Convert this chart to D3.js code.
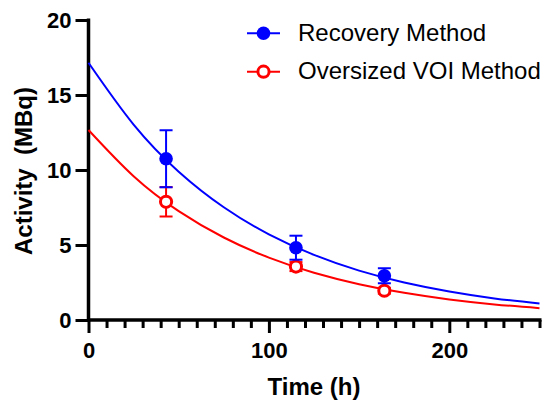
<!DOCTYPE html>
<html>
<head>
<meta charset="utf-8">
<script src="https://cdn.jsdelivr.net/npm/d3@7"></script>
<style>
  body { margin: 0; background: #fff; }
  svg { display: block; }
  text { font-family: "Liberation Sans", Arial, sans-serif; }
</style>
</head>
<body>
<div id="chart"></div>
<script>
// measured points
const sampleTimes = [43, 115, 164];
const recoveryMean = [10.75, 4.82, 2.95];
const recoveryErr = [1.9, 0.8, 0.5];
const oversizedMean = [7.88, 3.56, 1.95];
const oversizedErr = [0.98, 0.3, 0.2];

// fitted curves
const curveTimes = [0, 25, 50, 75, 100, 125, 150, 175, 200, 225, 250];
const recoveryFit = [17.15, 13.03, 9.89, 7.52, 5.71, 4.34, 3.29, 2.50, 1.90, 1.44, 1.10];
const oversizedFit = [12.67, 9.59, 7.26, 5.50, 4.16, 3.15, 2.39, 1.81, 1.37, 1.04, 0.79];

const xMajor = [0, 100, 200];
const xMinor = [10, 20, 30, 40, 50, 60, 70, 80, 90, 110, 120, 130, 140, 150, 160, 170, 180, 190, 210, 220, 230, 240, 250];
const yTicks = [0, 5, 10, 15, 20];

const seriesNames = ['Recovery Method', 'Oversized VOI Method'];
const BLUE = '#0000ff';
const RED = '#ff0000';

const W = 542, H = 400;
const margin = { top: 20, right: 2.5, bottom: 80, left: 88.5 };
const width = W - margin.left - margin.right;
const height = H - margin.top - margin.bottom;

const svg = d3.select('#chart').append('svg')
  .attr('width', W).attr('height', H);
const g = svg.append('g')
  .attr('transform', `translate(${margin.left},${margin.top})`);

const x = d3.scaleLinear().domain([0, 250]).range([0, width]);
const y = d3.scaleLinear().domain([0, 20]).range([height, 0]);

// axes
const xMinorAxis = g.append('g')
  .attr('transform', `translate(0,${height})`)
  .call(d3.axisBottom(x).tickValues(xMinor).tickSize(8).tickSizeOuter(0).tickFormat(''));
xMinorAxis.select('.domain').remove();
xMinorAxis.selectAll('line').attr('stroke-width', 3);

const xAxis = g.append('g')
  .attr('transform', `translate(0,${height})`)
  .call(d3.axisBottom(x).tickValues(xMajor).tickSize(13).tickSizeOuter(0));
xAxis.select('.domain').attr('stroke-width', 3.5).attr('d', `M-1.5,0H${width + 2}`);
xAxis.selectAll('line').attr('stroke-width', 3);
xAxis.selectAll('text')
  .attr('y', 38).attr('dy', 0)
  .attr('font-size', 22).attr('font-weight', 'bold').attr('fill', '#000')
  .style('font-family', '"Liberation Sans", Arial, sans-serif');

const yAxis = g.append('g')
  .call(d3.axisLeft(y).tickValues(yTicks).tickSize(13).tickSizeOuter(0));
yAxis.select('.domain').attr('stroke-width', 3.5).attr('d', `M0,${height + 1.5}V-1.5`);
yAxis.selectAll('line').attr('stroke-width', 3);
yAxis.selectAll('text')
  .attr('x', -17).attr('dy', '0.35em')
  .attr('font-size', 22).attr('font-weight', 'bold').attr('fill', '#000')
  .style('font-family', '"Liberation Sans", Arial, sans-serif');
g.selectAll('.domain, .tick line').attr('stroke', '#000');

// axis titles
svg.append('text')
  .attr('transform', 'rotate(-90)')
  .attr('x', -171).attr('y', 32)
  .attr('text-anchor', 'middle')
  .attr('font-size', 24).attr('font-weight', 'bold')
  .style('white-space', 'pre')
  .text('Activity  (MBq)');

svg.append('text')
  .attr('x', margin.left + width / 2).attr('y', 395)
  .attr('text-anchor', 'middle')
  .attr('font-size', 24).attr('font-weight', 'bold')
  .text('Time (h)');

// fit curves
const line = d3.line()
  .x(d => x(d[0]))
  .y(d => y(d[1]))
  .curve(d3.curveNatural);

const series = [
  { name: seriesNames[0], color: BLUE, fit: recoveryFit, mean: recoveryMean, err: recoveryErr, filled: true },
  { name: seriesNames[1], color: RED, fit: oversizedFit, mean: oversizedMean, err: oversizedErr, filled: false }
];

const plot = g.append('g');
series.slice().reverse().forEach(s => {
  plot.append('path')
    .datum(curveTimes.map((t, i) => [t, s.fit[i]]))
    .attr('d', line)
    .attr('fill', 'none')
    .attr('stroke', s.color)
    .attr('stroke-width', 2);
});

// error bars and markers (red first, blue on top)
series.slice().reverse().forEach(s => {
  const pts = sampleTimes.map((t, i) => ({ t, m: s.mean[i], e: s.err[i] }));
  const eb = plot.append('g');
  pts.forEach(p => {
    const cx = x(p.t);
    eb.append('line')
      .attr('x1', cx).attr('x2', cx)
      .attr('y1', y(p.m - p.e)).attr('y2', y(p.m + p.e))
      .attr('stroke', s.color).attr('stroke-width', 2);
    [p.m - p.e, p.m + p.e].forEach(v => {
      eb.append('line')
        .attr('x1', cx - 6.5).attr('x2', cx + 6.5)
        .attr('y1', y(v)).attr('y2', y(v))
        .attr('stroke', s.color).attr('stroke-width', 2);
    });
  });
  plot.append('g').selectAll('circle')
    .data(pts)
    .join('circle')
    .attr('cx', d => x(d.t))
    .attr('cy', d => y(d.m))
    .attr('r', s.filled ? 6.8 : 5.6)
    .attr('fill', s.filled ? s.color : '#fff')
    .attr('stroke', s.color)
    .attr('stroke-width', s.filled ? 0 : 3);
});

// legend
const legend = svg.append('g');
series.forEach((s, i) => {
  const ly = 33.3 + i * 38.4;
  const item = legend.append('g');
  item.append('line')
    .attr('x1', 247).attr('x2', 280)
    .attr('y1', ly).attr('y2', ly)
    .attr('stroke', s.color).attr('stroke-width', 2);
  item.append('circle')
    .attr('cx', 263.5).attr('cy', ly)
    .attr('r', s.filled ? 6.8 : 5.6)
    .attr('fill', s.filled ? s.color : '#fff')
    .attr('stroke', s.color)
    .attr('stroke-width', s.filled ? 0 : 3);
  item.append('text')
    .attr('x', 298).attr('y', ly + 7.5)
    .attr('font-size', 24)
    .attr('fill', '#000')
    .text(s.name);
});
</script>
</body>
</html>
